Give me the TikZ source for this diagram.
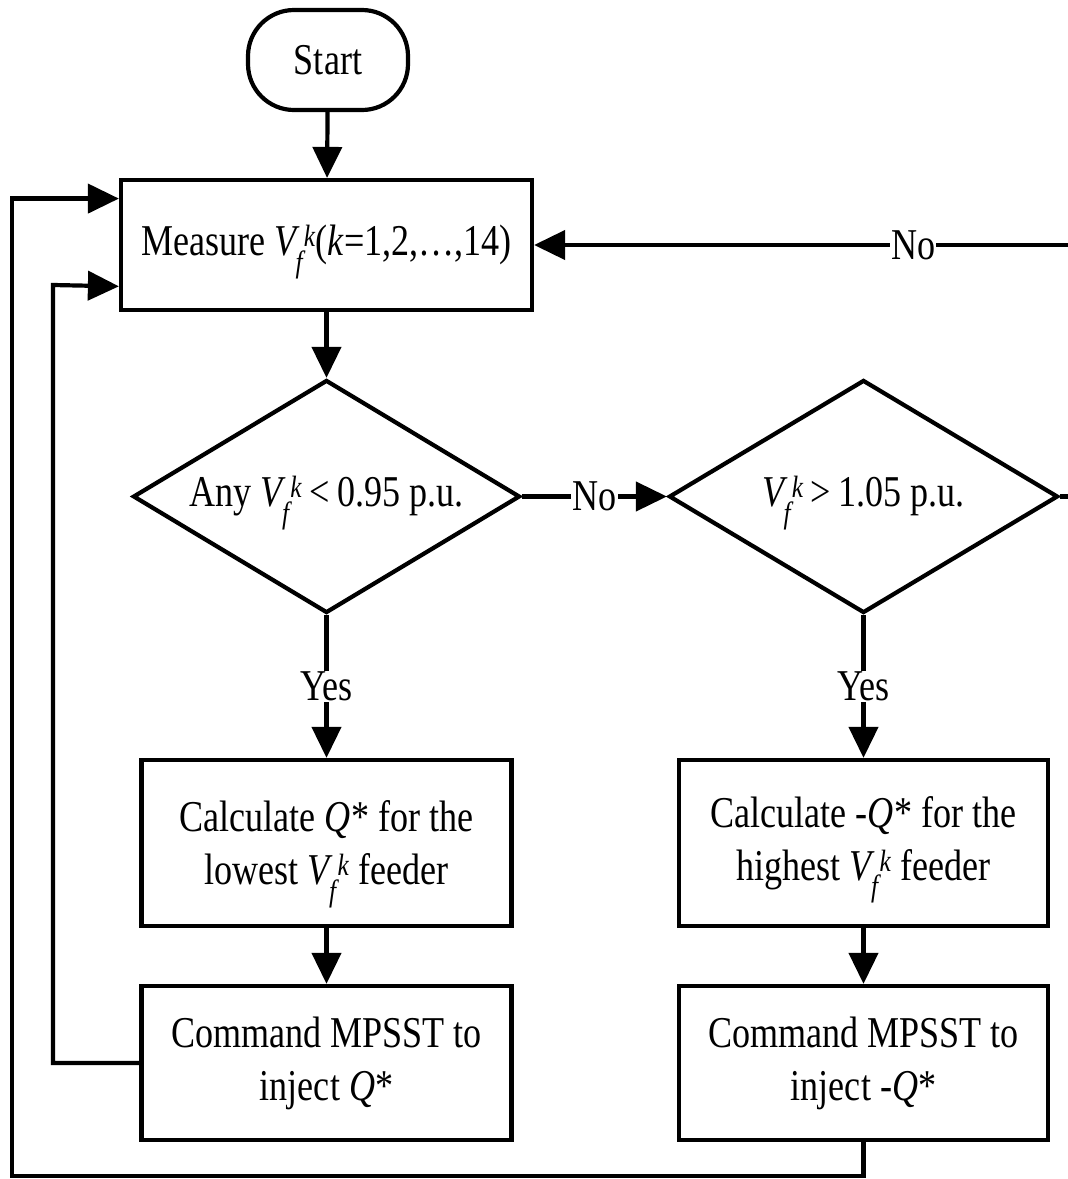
\documentclass[tikz,border=0pt]{standalone}
\usepackage{amsmath}
\usepackage{fontspec}
\setmainfont{Liberation Serif}[FakeStretch=0.82]
\usetikzlibrary{shapes.geometric,arrows.meta,calc}
% feeder voltage symbol V_f^k, smashed so it does not shift the line
\newcommand\Vfk{\smash{\textit{V}$_{\!\textit{f}}^{\,\textit{k}}$}}
\begin{document}
\begin{tikzpicture}[x=1pt,y=-1pt,
  every node/.style={font=\fontsize{44}{53}\selectfont},
  flow/.style={line width=4.2pt},
  arr/.style={flow,-{Triangle[length=31pt,width=29pt]}},
  box/.style={draw,line width=4.2pt,rectangle,inner sep=0pt,align=center},
  term/.style={draw,line width=4.2pt,rectangle,rounded corners=46pt,inner sep=0pt},
  dec/.style={draw,line width=4.2pt,diamond,aspect=1.66,inner sep=0pt},
  lbl/.style={fill=white,inner sep=1pt}]
\useasboundingbox (0,0) rectangle (1068,1179);
\fill[white] (0,0) rectangle (1068,1179);
\clip (0,0) rectangle (1068,1179);

% process steps
\node[term, minimum width=160pt, minimum height=100pt] (start) at (328,60) {Start};
\node[box, minimum width=411pt, minimum height=130pt] (meas) at (326.5,245)
  {Measure \Vfk(\textit{k}=1,2,\ldots,14)};
\node[dec, minimum width=387pt, minimum height=233pt] (d1) at (326.5,496.5)
  {Any \Vfk\,<\,0.95 p.u.};
\node[dec, minimum width=389pt, minimum height=233pt] (d2) at (863.5,496.5)
  {\Vfk\,>\,1.05 p.u.};
\node[box, minimum width=370pt, minimum height=166pt] (c1) at (326.5,843)
  {Calculate \textit{Q}* for the\\lowest \Vfk{} feeder};
\node[box, minimum width=370pt, minimum height=154pt] (m1) at (326.5,1063)
  {Command MPSST to\\inject \textit{Q}*};
\node[box, minimum width=369pt, minimum height=166pt] (c2) at (863.5,843)
  {Calculate -\textit{Q}* for the\\highest \Vfk{} feeder};
\node[box, minimum width=369pt, minimum height=154pt] (m2) at (863.5,1063)
  {Command MPSST to\\inject -\textit{Q}*};

% loop corners
\coordinate (ol) at (12,1176);
\coordinate (il) at (53,285);

% connectors
\draw[arr] (start) -- (meas);
\draw[arr] (meas) -- (d1);
\draw[arr] (d1) -- node[lbl]{No} (d2);
\draw[arr] (d1) -- node[lbl]{Yes} (c1);
\draw[arr] (d2) -- node[lbl]{Yes} (c2);
\draw[arr] (c1) -- (m1);
\draw[arr] (c2) -- (m2);
\draw[arr] (d2.east) -- ++(40,0) |- node[lbl,pos=0.665]{No} (meas.east);
\draw[arr] (m2.south) |- (ol) |- ($(meas.north west)!0.154!(meas.south west)$);
\draw[arr] (m1.west) -| (il) -- ($(meas.north west)!0.808!(meas.south west)$);
\end{tikzpicture}
\end{document}
